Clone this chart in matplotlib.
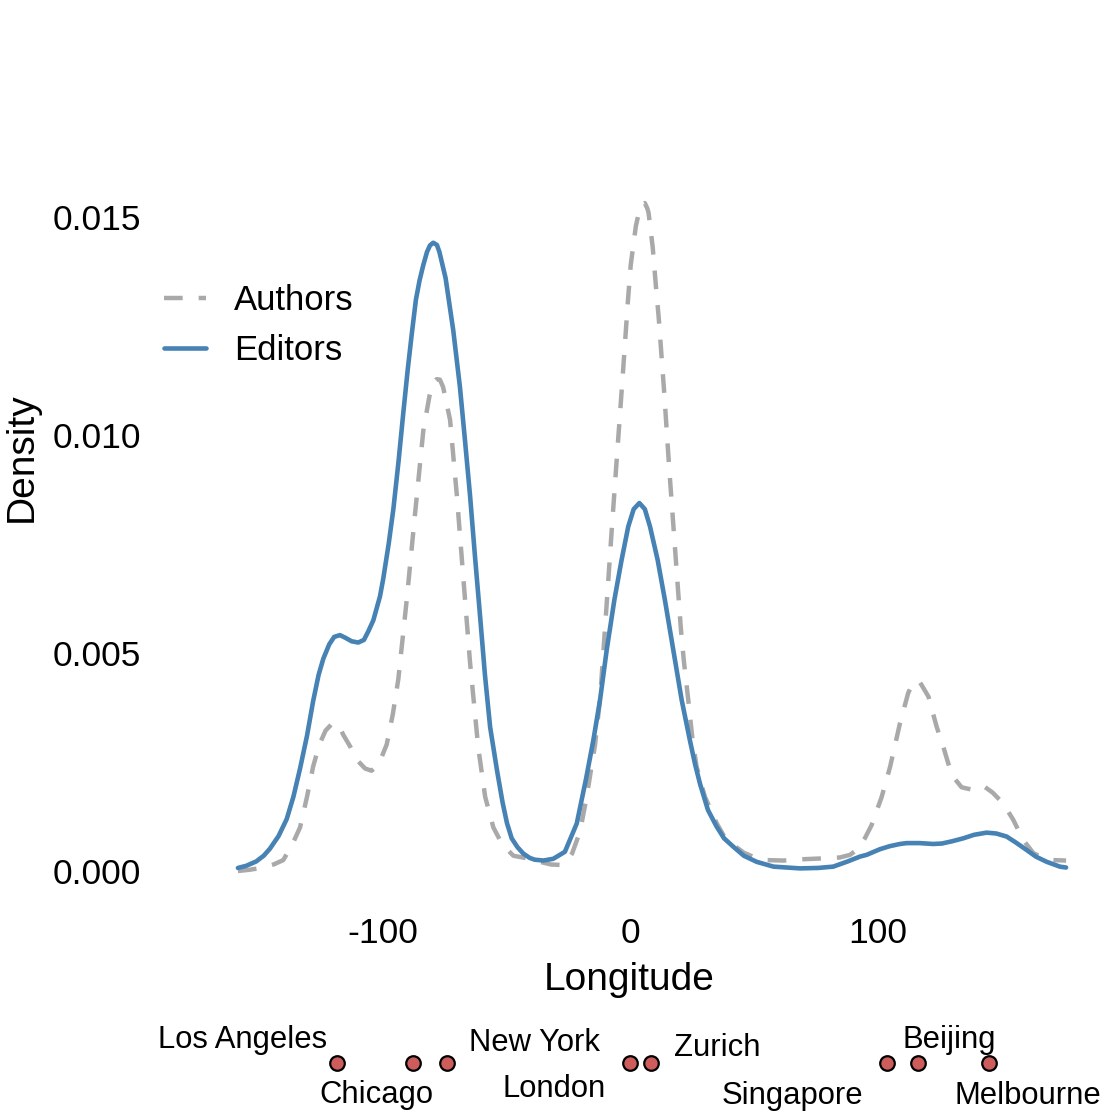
import numpy as np
import matplotlib
matplotlib.use("Agg")
import matplotlib.pyplot as plt

plt.rcParams['font.family'] = ['Liberation Sans', 'DejaVu Sans']
plt.rcParams['axes.unicode_minus'] = False

# density curves (longitude, density)
authors_lon = [-158.4, -153.5, -148, -144, -140.1, -136.5, -133.3, -130.5, -128, -125.5,
               -123, -120, -117.5, -115.8, -113, -110.4, -107, -104.4, -101.5, -98.3,
               -95.8, -93.6, -90.2, -86.9, -83.5, -81, -79.5, -78.1, -76.8, -75.5, -72.7, -70,
               -67.3, -64.6, -61.3, -58.5, -55.2, -51.5, -47.1, -42.4, -37, -32,
               -28.3, -25.5, -23.4, -20.2, -17.5, -14.1, -12, -9.2, -7.4, -5.4,
               -3, -0.8, 0.3, 2.4, 4.2, 5, 6, 7, 7.5, 9.2, 10.5, 11.6,
               13.8, 15.9, 18.2, 20.5, 21.8, 23.6, 25.3, 26.9, 28.3, 30.3,
               32.3, 35, 38, 41.7, 46, 50, 55.2, 62, 70, 78,
               84.8, 88.9, 92, 94.9, 97.6, 101.7, 105.1, 109.1, 112.4, 114, 115.6,
               117, 118, 120.6, 123.9, 126.6, 130, 134, 138.7, 142.8, 146.5, 150.8,
               154.9, 158.9, 163, 167, 171, 176.2]
authors_den = [0.0, 0.00003, 0.00008, 0.00015, 0.00025, 0.0006, 0.0010, 0.0017, 0.0024, 0.0029,
               0.00322, 0.0034, 0.00332, 0.00312, 0.00285, 0.00255, 0.00235, 0.0023, 0.00245, 0.0029,
               0.0036, 0.0044, 0.00622, 0.00816, 0.0101, 0.0109, 0.0112, 0.01128, 0.01127, 0.0111, 0.01035, 0.00865,
               0.0067, 0.00477, 0.00283, 0.0017, 0.0010, 0.0006, 0.00035, 0.0003, 0.00022, 0.00015,
               0.00014, 0.00022, 0.0004, 0.0009, 0.0017, 0.0029, 0.0040, 0.0063, 0.0078, 0.0094,
               0.0113, 0.0131, 0.0139, 0.0148, 0.01525, 0.0153, 0.01532, 0.0152, 0.0151, 0.0143, 0.0134, 0.0127,
               0.0110, 0.0092, 0.0074, 0.0056, 0.0048, 0.0039, 0.0030, 0.0024, 0.0021, 0.0017,
               0.00145, 0.0011, 0.0008, 0.0006, 0.00042, 0.00032, 0.00025, 0.00024, 0.00027, 0.00029,
               0.00031, 0.00037, 0.0005, 0.00075, 0.00105, 0.0017, 0.00239, 0.00339, 0.00408, 0.00428, 0.00437,
               0.00434, 0.00425, 0.0040, 0.00331, 0.00285, 0.0022, 0.00192, 0.00186, 0.00195, 0.0018, 0.00155,
               0.00117, 0.00071, 0.00041, 0.0003, 0.00025, 0.00024]

editors_lon = [-158.4, -155, -151, -148, -145.5, -142, -138.7, -136, -133.3, -130.5,
               -128, -125.8, -123.9, -121.5, -119.5, -117.2, -115, -112.5, -109.8, -107.5,
               -105.7, -103.7, -101, -99.7, -97.5, -95.6, -93.5, -91.6, -89.8, -88.2, -86.5, -85, -83.5,
               -82, -80.8, -79.5, -78, -77, -74.5, -71.4, -68.7, -66.7, -64.6, -62.6, -60.5, -58.6,
               -56.5, -53.7, -51.5, -49.7, -47.8, -45.5, -43.1, -40.5, -38.5, -35, -31, -26.3, -21.5,
               -17.8, -14.8, -12.1, -9.4, -6.3, -3.4, -0.7, 1.5, 3.8, 6,
               8.1, 11.2, 14.1, 17.5, 20.9, 24.2, 26.3, 28.3, 31.5, 35,
               38, 41.7, 46, 51.2, 58, 68.7, 76, 82.1, 88, 92.9,
               95.6, 101, 105, 109.1, 111.8, 117, 122.5, 126, 130, 134.7,
               139, 144.1, 148, 152.2, 156, 160.3, 164, 168.4, 173.7, 176.2]
editors_den = [0.00007, 0.00012, 0.00022, 0.00035, 0.00051, 0.0008, 0.00119, 0.0017, 0.00235, 0.0031,
               0.0039, 0.0045, 0.00487, 0.0052, 0.00537, 0.00541, 0.00535, 0.00527, 0.00524, 0.0053,
               0.0055, 0.00575, 0.0063, 0.0067, 0.0075, 0.0083, 0.0094, 0.0105, 0.0115, 0.0123, 0.0131, 0.01355, 0.0139,
               0.01420, 0.01435, 0.01441, 0.01436, 0.0142, 0.0136, 0.0124, 0.0111, 0.0099, 0.0086, 0.0072, 0.0058, 0.0045,
               0.0033, 0.0023, 0.00158, 0.0011, 0.00075, 0.00055, 0.0004, 0.0003, 0.00026, 0.00024, 0.00028, 0.00044, 0.00109,
               0.0021, 0.0030, 0.00392, 0.00507, 0.00622, 0.00713, 0.0079, 0.0083, 0.00844, 0.0083,
               0.0079, 0.00713, 0.00622, 0.00507, 0.00392, 0.0030, 0.00245, 0.0020, 0.0014, 0.00102,
               0.00075, 0.00056, 0.00035, 0.00021, 0.0001, 0.00006, 0.00007, 0.0001, 0.00022, 0.00033,
               0.00037, 0.0005, 0.00057, 0.00062, 0.00064, 0.00064, 0.00062, 0.00063, 0.00068, 0.00075,
               0.00083, 0.00088, 0.00086, 0.00079, 0.00065, 0.00048, 0.00033, 0.00021, 0.0001, 0.00008]

cities = ['Los Angeles', 'Chicago', 'New York', 'London', 'Zurich',
          'Singapore', 'Beijing', 'Melbourne']
city_lon = [-118.2, -87.6, -74.0, -0.13, 8.5, 103.8, 116.4, 145.0]

xticks = [-100, 0, 100]
xtick_labels = ['-100', '0', '100']
yticks = [0.0, 0.005, 0.010, 0.015]
ytick_labels = ['0.000', '0.005', '0.010', '0.015']

# label offsets in pixels from each dot (ha, dx, dy)
label_off = [('right', -10, 23), ('center', -37, -32), ('center', 88, 20),
             ('center', -76, -26), ('center', 66, 15), ('center', -94, -33),
             ('center', 31, 23), ('center', 39, -33)]

W = H = 1120
fig = plt.figure(figsize=(11.2, 11.2), dpi=100)
fig.patch.set_facecolor('white')

x0, x1 = 196.6, 1107.4
y_top, y_bot = 169.5, 904.4
ax = fig.add_axes([x0 / W, 1 - y_bot / H, (x1 - x0) / W, (y_bot - y_top) / H])
ax.set_xlim(-175.1, 192.9)
ax.set_ylim(-0.000766, 0.01609)

ax.plot(authors_lon, authors_den, color='#A9A9A9', lw=3.2, dashes=(4.2, 3.6),
        label='Authors', dash_capstyle='butt', dash_joinstyle='round')
ax.plot(editors_lon, editors_den, color='#4682B4', lw=3.3, label='Editors',
        solid_capstyle='round', solid_joinstyle='round')

for s in ax.spines.values():
    s.set_visible(False)
ax.set_xticks(xticks)
ax.set_xticklabels(xtick_labels)
ax.set_yticks(yticks)
ax.set_yticklabels(ytick_labels)
ax.tick_params(axis='both', length=0, labelsize=25.5, labelcolor='black')
ax.tick_params(axis='y', pad=40)
ax.tick_params(axis='x', pad=9)

fig.text(629.5 / W, 1 - 980 / H, 'Longitude', fontsize=28, ha='center', va='center')
fig.text(22 / W, 1 - 457 / H, 'Density', fontsize=28, ha='center', va='center',
         rotation=90)

leg = ax.legend(loc='upper left', bbox_to_anchor=(164 / W, 1 - 284 / H),
                bbox_transform=fig.transFigure, frameon=False, fontsize=25,
                handlelength=1.22, handletextpad=0.8, labelspacing=0.5,
                borderpad=0, borderaxespad=0)

# city strip under the axis
sx = fig.add_axes([x0 / W, 0, (x1 - x0) / W, 110 / H])
sx.set_xlim(ax.get_xlim())
sx.set_ylim(110, 0)
sx.axis('off')
dot_y = 1063 - (H - 110)
sx.scatter(city_lon, [dot_y] * len(city_lon), s=110, color='#CD5C5C',
           edgecolor='black', linewidth=1.6, zorder=3)
for name, lon, (ha, dx, dy) in zip(cities, city_lon, label_off):
    sx.annotate(name, (lon, dot_y), xytext=(dx, dy), textcoords='offset pixels',
                ha=ha, va='center', fontsize=22.3, annotation_clip=False)

fig.savefig('out.png', dpi=100, facecolor='white')
